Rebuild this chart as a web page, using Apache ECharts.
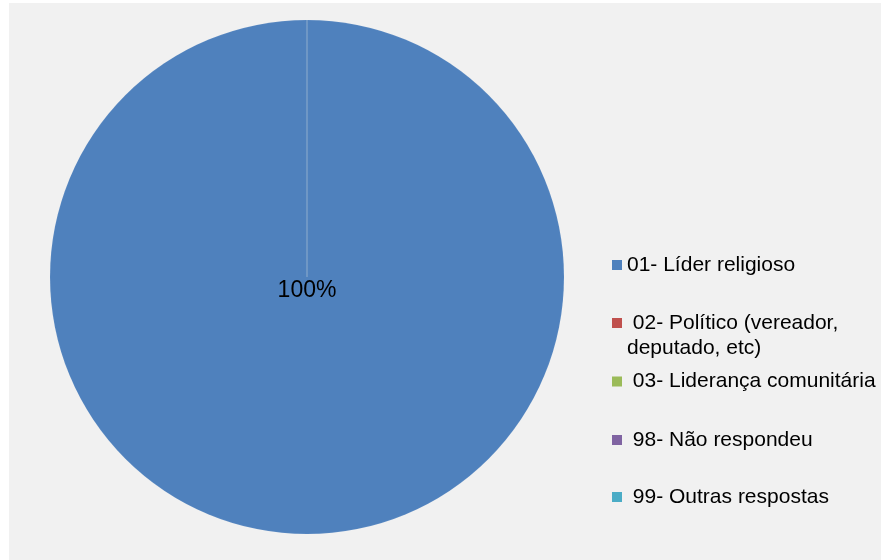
<!DOCTYPE html>
<html>
<head>
<meta charset="utf-8">
<script src="https://cdn.jsdelivr.net/npm/echarts@6/dist/echarts.min.js"></script>
<style>
  html, body { margin: 0; padding: 0; background: #ffffff; }
  #chart { width: 881px; height: 560px; }
</style>
</head>
<body>
<div id="chart"></div>
<script>
// Categories and their shares (%)
const categories = [
  '01- Líder religioso',
  '02- Político (vereador, deputado, etc)',
  '03- Liderança comunitária',
  '98- Não respondeu',
  '99- Outras respostas'
];
const values = [100, 0, 0, 0, 0];
const colors = ['#4f81bd', '#c0504d', '#9bbb59', '#8064a2', '#4bacc6'];

// Legend text as laid out beside the pie
const legendText = [
  '01- Líder religioso',
  ' 02- Político (vereador,\ndeputado, etc)',
  ' 03- Liderança comunitária',
  ' 98- Não respondeu',
  ' 99- Outras respostas'
];
const legendTop = [252.5, 310.5, 369, 427.5, 484.5];

const font = 'Liberation Sans, Arial, sans-serif';

const chart = echarts.init(document.getElementById('chart'), null, { renderer: 'canvas' });

const legends = categories.map((name, i) => {
  const twoLine = legendText[i].indexOf('\n') >= 0;
  return {
    left: 612,
    top: legendTop[i],
    padding: 0,
    orient: 'vertical',
    data: [name],
    itemWidth: 10,
    itemHeight: twoLine ? 35 : 10,
    // square marker kept level with the first text line
    icon: twoLine ? 'path://M0,0H10V10H0Z M0,35L0,35' : 'rect',
    itemStyle: { borderWidth: 0 },
    selectedMode: false,
    formatter: () => legendText[i],
    textStyle: { fontFamily: font, fontSize: 21, color: '#000000', lineHeight: 25 }
  };
});

chart.setOption({
  animation: false,
  backgroundColor: '#ffffff',
  color: colors,
  graphic: [{
    type: 'rect',
    shape: { x: 9, y: 3, width: 872, height: 557 },
    style: { fill: '#f1f1f1' },
    silent: true,
    z: -10
  }],
  legend: legends,
  series: [{
    type: 'pie',
    center: [307, 277],
    radius: 257,
    startAngle: 90,
    clockwise: true,
    avoidLabelOverlap: false,
    labelLine: { show: false },
    itemStyle: { borderColor: 'rgba(255,255,255,0.06)', borderWidth: 1 },
    label: {
      show: true,
      position: 'center',
      // empty first line drops the percentage just below the centre
      formatter: p => (p.value > 0 ? '\n' + p.percent + '%' : ''),
      fontFamily: font,
      fontSize: 23,
      lineHeight: 27,
      color: '#000000'
    },
    emphasis: { disabled: true },
    data: categories.map((name, i) => ({ name: name, value: values[i] }))
  }]
});
</script>
</body>
</html>
